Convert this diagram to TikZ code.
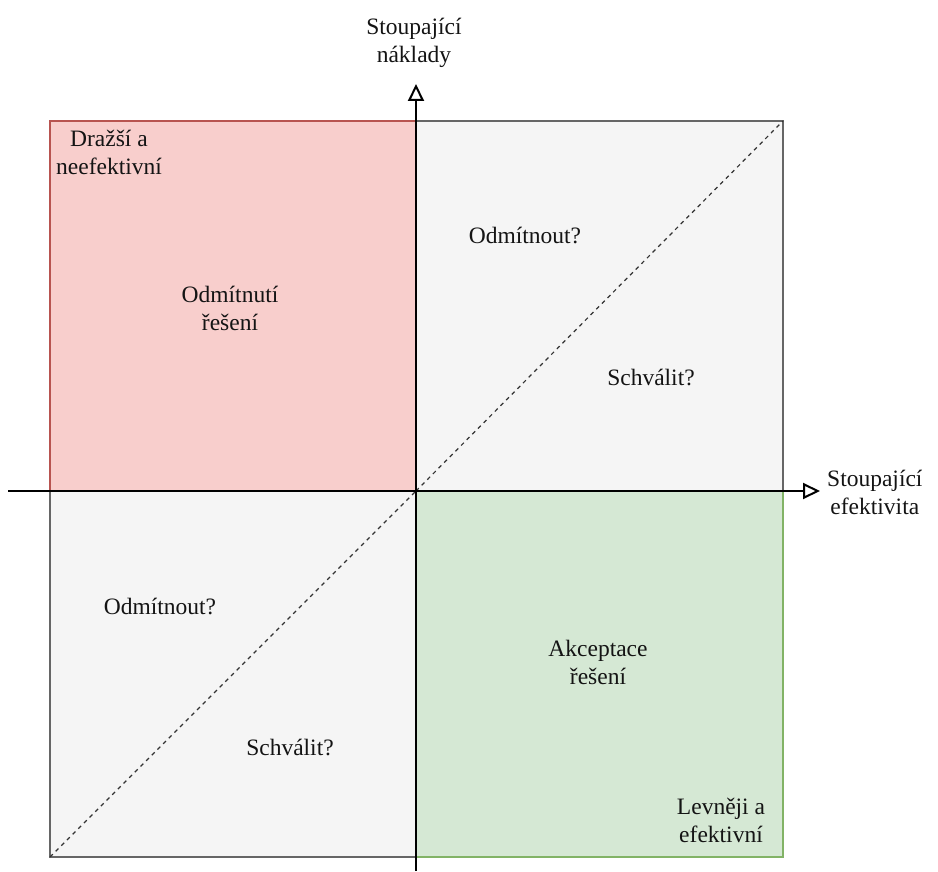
\documentclass[tikz,border=0pt]{standalone}
\usepackage{fontspec}
\setmainfont{Liberation Serif}
\usetikzlibrary{arrows.meta}
\tikzset{
  lbl/.style={font=\fontsize{23.5}{28}\selectfont, text=black!92, align=center, inner sep=0pt},
  quad/.style={line width=1.2pt},
  axis/.style={line width=1.8pt, -{Triangle[open, length=17pt, width=16pt, line width=2pt]}},
  diag/.style={dashed, dash pattern=on 4pt off 4pt, line width=1.2pt, black!80},
}
\definecolor{redfill}{HTML}{F8CECC}
\definecolor{redline}{HTML}{B85450}
\definecolor{greyfill}{HTML}{F5F5F5}
\definecolor{greyline}{HTML}{666666}
\definecolor{greenfill}{HTML}{D5E8D4}
\definecolor{greenline}{HTML}{82B366}
\begin{document}
\begin{tikzpicture}[x=1pt,y=-1pt]
\useasboundingbox (0,0) rectangle (938,872);
% quadrants
\draw[quad, fill=redfill, draw=redline] (50,121) rectangle (416,491);
\draw[quad, fill=greyfill, draw=greyline] (416,121) rectangle (783,491);
\draw[quad, fill=greyfill, draw=greyline] (50,491) rectangle (416,857);
\draw[quad, fill=greenfill, draw=greenline] (416,491) rectangle (783,857);
% diagonals
\coordinate (c) at (416,491);
\coordinate (tr) at (783,121);
\coordinate (bl) at (50,857);
\draw[diag] (c) -- (tr);
\draw[diag] (bl) -- (c);
% axes
\coordinate (xs) at (8,491);
\coordinate (xe) at (820,491);
\coordinate (ys) at (416,871);
\coordinate (ye) at (416,84);
\draw[axis] (xs) -- (xe);
\draw[axis] (ys) -- (ye);
% labels
\node[lbl] (ylab) at (414,43) {Stoupající\\náklady};
\node[lbl, anchor=west] (xlab) at (827,492) {Stoupající\\efektivita};
\node[lbl] (tl) at (109,152) {Dražší a\\neefektivní};
\node[lbl] (br) at (721,820) {Levněji a\\efektivní};
\node[lbl] (rej) at (230,308) {Odmítnutí\\řešení};
\node[lbl] (acc) at (598,662) {Akceptace\\řešení};
\node[lbl] (q1) at (525,235) {Odmítnout?};
\node[lbl] (q2) at (651,377) {Schválit?};
\node[lbl] (q3) at (160,606) {Odmítnout?};
\node[lbl] (q4) at (290,747) {Schválit?};
\end{tikzpicture}
\end{document}
